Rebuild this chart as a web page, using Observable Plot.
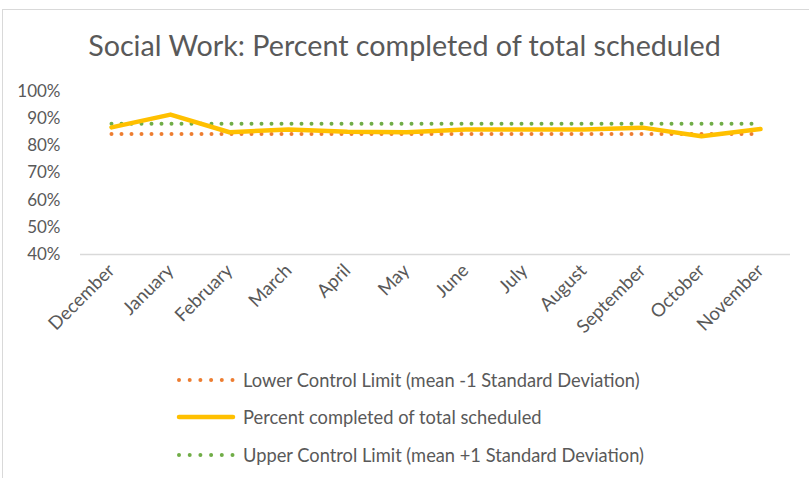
<!DOCTYPE html>
<html>
<head>
<meta charset="utf-8">
<script src="https://cdn.jsdelivr.net/npm/d3@7"></script>
<script src="https://cdn.jsdelivr.net/npm/@observablehq/plot@0.6"></script>
<style>
  html, body { margin: 0; padding: 0; background: #fff; }
  #wrap { position: relative; width: 809px; height: 478px; overflow: hidden; font-family: Lato, "Open Sans", sans-serif; color: #595959; }
  #frame { position: absolute; left: 2px; top: 9px; width: 900px; height: 600px; border-top: 1.5px solid #d9d9d9; border-left: 1.5px solid #d9d9d9; }
  #title { position: absolute; left: 0; width: 809px; top: 28px; text-align: center; font-size: 28.7px; line-height: 34px; }
  #chart { position: absolute; left: 0; top: 0; }
  .leg { position: absolute; left: 176px; height: 22px; display: flex; align-items: center; font-size: 18.3px; white-space: nowrap; }
  .leg svg { margin-right: 7px; }
</style>
</head>
<body>
<div id="wrap">
  <div id="frame"></div>
  <div id="chart"></div>
  <div id="title">Social Work: Percent completed of total scheduled</div>
  <div id="legend"></div>
</div>
<script>
const months = ["December","January","February","March","April","May","June","July","August","September","October","November"];
const percentCompleted = [86.8, 91.5, 85.0, 86.0, 85.2, 85.0, 86.0, 86.0, 86.0, 86.7, 83.5, 86.2];
const lowerControl = [84.4, 84.4, 84.4, 84.4, 84.4, 84.4, 84.4, 84.4, 84.4, 84.4, 84.4, 84.4];
const upperControl = [88.1, 88.1, 88.1, 88.1, 88.1, 88.1, 88.1, 88.1, 88.1, 88.1, 88.1, 88.1];
const yTicks = [40, 50, 60, 70, 80, 90, 100];
const seriesNames = ["Lower Control Limit (mean -1 Standard Deviation)", "Percent completed of total scheduled", "Upper Control Limit (mean +1 Standard Deviation)"];
const colors = {lcl: "#ED7D31", pct: "#FFC000", ucl: "#70AD47"};

const rows = months.map((m, i) => ({month: m, pct: percentCompleted[i], lcl: lowerControl[i], ucl: upperControl[i]}));

const chart = Plot.plot({
  width: 809,
  height: 360,
  marginTop: 91,
  marginBottom: 106,
  marginLeft: 80,
  marginRight: 19,
  style: {color: "#595959", fontFamily: "Lato, 'Open Sans', sans-serif", background: "transparent"},
  x: {type: "point", domain: months, padding: 0.5},
  y: {domain: [40, 100]},
  marks: [
    Plot.ruleY([40], {stroke: "#d9d9d9", strokeWidth: 1.5}),
    Plot.axisY({ticks: yTicks, tickFormat: d => d + "%", tickSize: 0, tickPadding: 20, fontSize: 17, label: null}),
    Plot.axisX({tickRotate: -45, tickSize: 0, tickPadding: 13, fontSize: 18.5, label: null}),
    Plot.line(rows, {x: "month", y: "lcl", stroke: colors.lcl, strokeWidth: 4, strokeDasharray: "0 10", strokeLinecap: "round"}),
    Plot.line(rows, {x: "month", y: "ucl", stroke: colors.ucl, strokeWidth: 4, strokeDasharray: "0 10", strokeLinecap: "round"}),
    Plot.line(rows, {x: "month", y: "pct", stroke: colors.pct, strokeWidth: 4.5, strokeLinejoin: "round", strokeLinecap: "round"})
  ]
});
document.getElementById("chart").appendChild(chart);

const legend = document.getElementById("legend");
const legendItems = [
  {name: seriesNames[0], color: colors.lcl, dotted: true, top: 369},
  {name: seriesNames[1], color: colors.pct, dotted: false, top: 406},
  {name: seriesNames[2], color: colors.ucl, dotted: true, top: 444}
];
for (const it of legendItems) {
  const d = document.createElement("div");
  d.className = "leg";
  d.style.top = it.top + "px";
  const dash = it.dotted ? `stroke-dasharray="0 10.7" stroke-width="4"` : `stroke-width="4.5"`;
  d.innerHTML = `<svg width="60" height="10"><line x1="3" y1="5" x2="57" y2="5" stroke="${it.color}" ${dash} stroke-linecap="round"/></svg><span></span>`;
  d.querySelector("span").textContent = it.name;
  legend.appendChild(d);
}
</script>
</body>
</html>
